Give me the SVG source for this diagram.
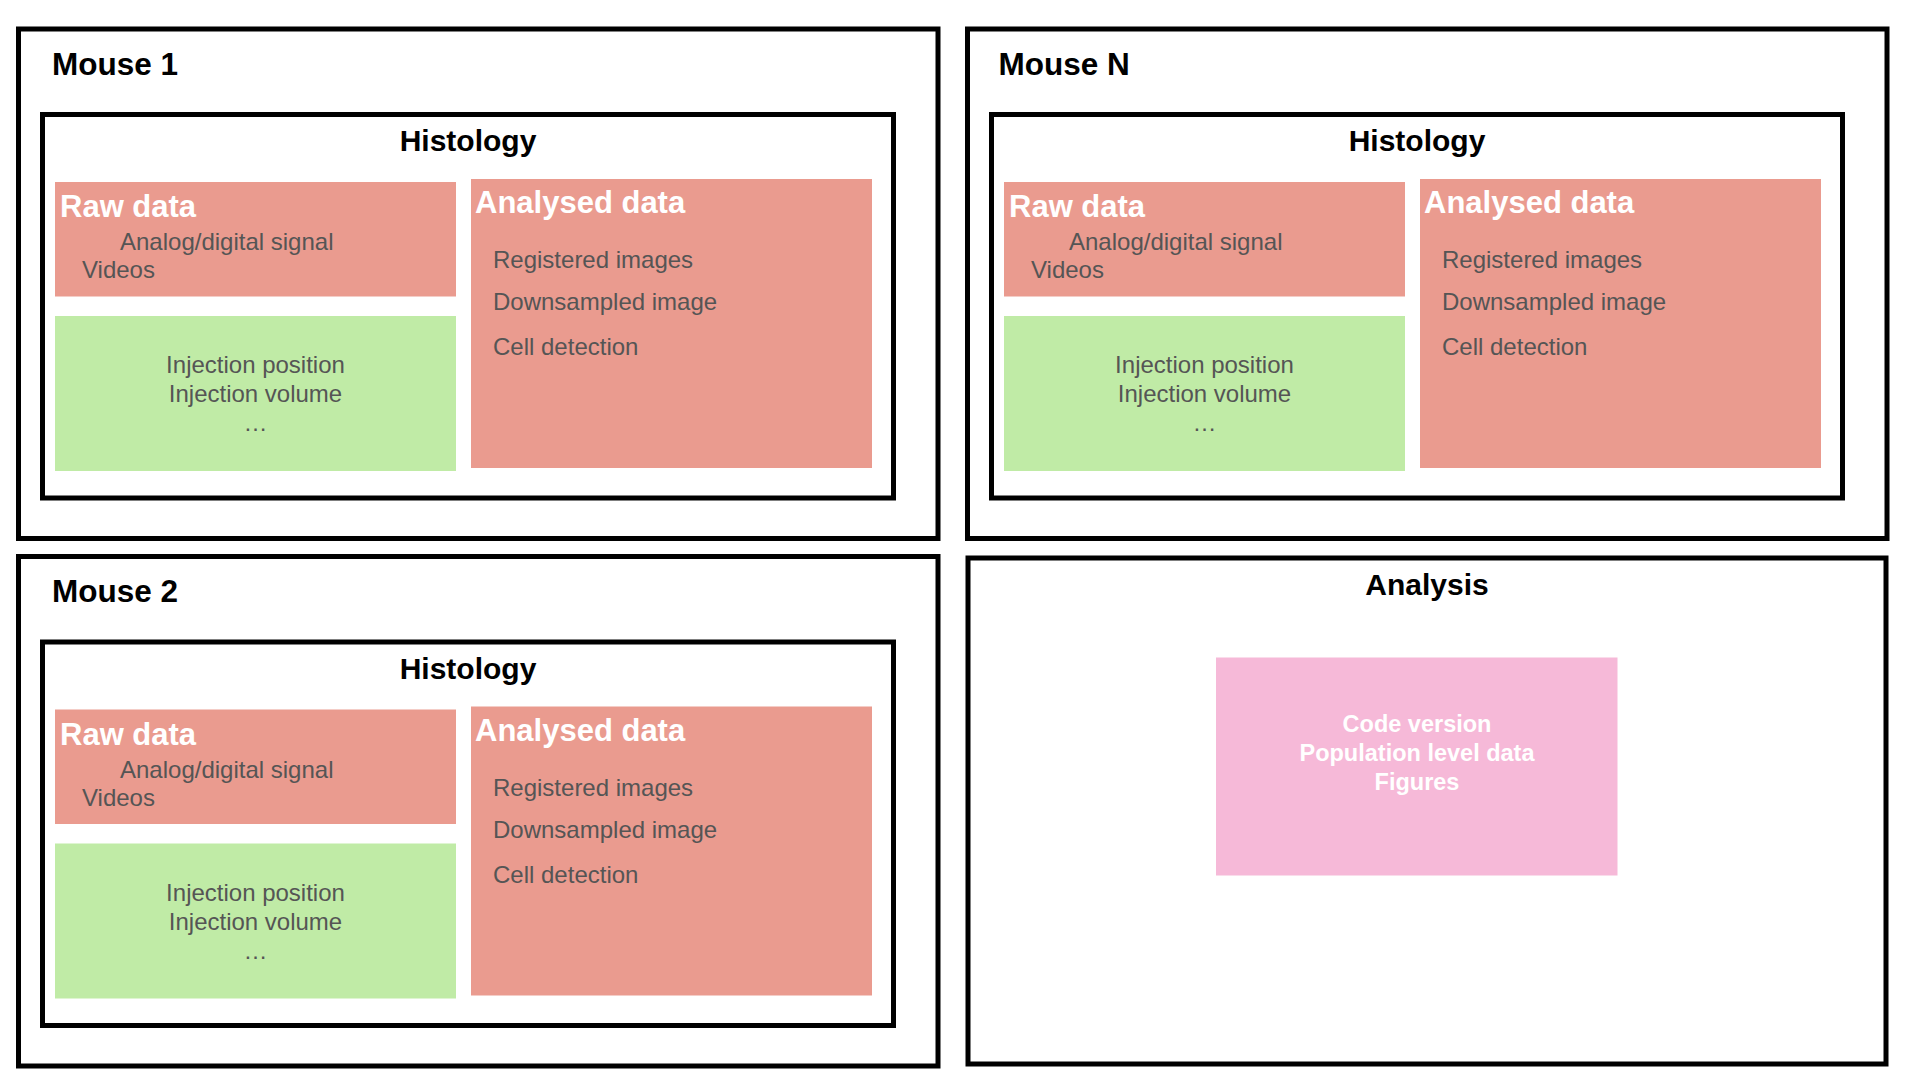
<svg xmlns="http://www.w3.org/2000/svg" width="1920" height="1080" viewBox="0 0 1920 1080">
<style>
.frame{fill:#ffffff;stroke:#000000;stroke-width:5}
.raw{fill:#EA9B8F}
.meta{fill:#C0EBA6}
.ana{fill:#EA9B8F}
.pink{fill:#F6B9D8}
.title{font-family:"Liberation Sans",Arial,Helvetica,sans-serif;font-weight:bold;font-size:30px;fill:#000000}
.mtitle{font-size:31.5px}
.head{font-family:"Liberation Sans",Arial,Helvetica,sans-serif;font-weight:bold;font-size:31px;fill:#ffffff}
.item{font-family:"Liberation Sans",Arial,Helvetica,sans-serif;font-size:24px;fill:#555555}
.mid{text-anchor:middle}
.wb{font-family:"Liberation Sans",Arial,Helvetica,sans-serif;font-weight:bold;font-size:23.5px;fill:#ffffff;text-anchor:middle}
</style>
<rect x="0" y="0" width="1920" height="1080" fill="#ffffff"/>

<g id="mouse1">
  <rect class="frame" x="18.5" y="29" width="919.5" height="509.5"/>
  <text class="title mtitle" x="52" y="75">Mouse 1</text>
  <g id="mouse1-histology">
    <rect class="frame" x="42.5" y="114.5" width="851" height="383.5"/>
    <text class="title mid" x="468" y="151">Histology</text>
    <g id="mouse1-raw">
      <rect class="raw" x="55" y="182" width="401" height="114.5"/>
      <text class="head" x="60" y="217">Raw data</text>
      <text class="item" x="120" y="250">Analog/digital signal</text>
      <text class="item" x="82" y="278">Videos</text>
    </g>
    <g id="mouse1-meta">
      <rect class="meta" x="55" y="316" width="401" height="155"/>
      <text class="item mid" x="255.5" y="373">Injection position</text>
      <text class="item mid" x="255.5" y="402">Injection volume</text>
      <text class="item mid" x="255.5" y="431">…</text>
    </g>
    <g id="mouse1-analysed">
      <rect class="ana" x="471" y="179" width="401" height="289"/>
      <text class="head" x="475" y="213">Analysed data</text>
      <text class="item" x="493" y="268">Registered images</text>
      <text class="item" x="493" y="310">Downsampled image</text>
      <text class="item" x="493" y="355">Cell detection</text>
    </g>
  </g>
</g>

<g id="mouse2" transform="translate(0,527.5)">
  <rect class="frame" x="18.5" y="29" width="919.5" height="509.5"/>
  <text class="title mtitle" x="52" y="74.5">Mouse 2</text>
  <g id="mouse2-histology">
    <rect class="frame" x="42.5" y="114.5" width="851" height="383.5"/>
    <text class="title mid" x="468" y="151">Histology</text>
    <g id="mouse2-raw">
      <rect class="raw" x="55" y="182" width="401" height="114.5"/>
      <text class="head" x="60" y="217">Raw data</text>
      <text class="item" x="120" y="250">Analog/digital signal</text>
      <text class="item" x="82" y="278">Videos</text>
    </g>
    <g id="mouse2-meta">
      <rect class="meta" x="55" y="316" width="401" height="155"/>
      <text class="item mid" x="255.5" y="373">Injection position</text>
      <text class="item mid" x="255.5" y="402">Injection volume</text>
      <text class="item mid" x="255.5" y="431">…</text>
    </g>
    <g id="mouse2-analysed">
      <rect class="ana" x="471" y="179" width="401" height="289"/>
      <text class="head" x="475" y="213">Analysed data</text>
      <text class="item" x="493" y="268">Registered images</text>
      <text class="item" x="493" y="310">Downsampled image</text>
      <text class="item" x="493" y="355">Cell detection</text>
    </g>
  </g>
</g>

<g id="mouseN" transform="translate(949,0)">
  <rect class="frame" x="18.5" y="29" width="919.5" height="509.5"/>
  <text class="title mtitle" x="49.5" y="75">Mouse N</text>
  <g id="mouseN-histology">
    <rect class="frame" x="42.5" y="114.5" width="851" height="383.5"/>
    <text class="title mid" x="468" y="151">Histology</text>
    <g id="mouseN-raw">
      <rect class="raw" x="55" y="182" width="401" height="114.5"/>
      <text class="head" x="60" y="217">Raw data</text>
      <text class="item" x="120" y="250">Analog/digital signal</text>
      <text class="item" x="82" y="278">Videos</text>
    </g>
    <g id="mouseN-meta">
      <rect class="meta" x="55" y="316" width="401" height="155"/>
      <text class="item mid" x="255.5" y="373">Injection position</text>
      <text class="item mid" x="255.5" y="402">Injection volume</text>
      <text class="item mid" x="255.5" y="431">…</text>
    </g>
    <g id="mouseN-analysed">
      <rect class="ana" x="471" y="179" width="401" height="289"/>
      <text class="head" x="475" y="213">Analysed data</text>
      <text class="item" x="493" y="268">Registered images</text>
      <text class="item" x="493" y="310">Downsampled image</text>
      <text class="item" x="493" y="355">Cell detection</text>
    </g>
  </g>
</g>

<g id="analysis">
  <rect class="frame" x="968" y="558" width="918" height="506"/>
  <text class="title mid" x="1427" y="595">Analysis</text>
  <g id="analysis-results">
    <rect class="pink" x="1216" y="657.5" width="401.5" height="218"/>
    <text class="wb" x="1417" y="731.5">Code version</text>
    <text class="wb" x="1417" y="760.5">Population level data</text>
    <text class="wb" x="1417" y="790">Figures</text>
  </g>
</g>

<g id="connectors"></g>
</svg>
